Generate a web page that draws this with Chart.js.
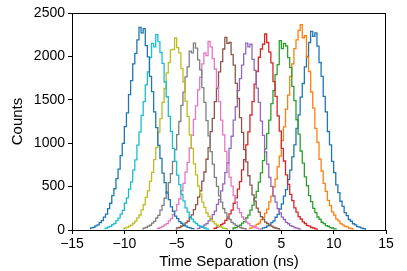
<!DOCTYPE html>
<html>
<head>
<meta charset="utf-8">
<script src="https://cdn.jsdelivr.net/npm/chart.js@4.4.1/dist/chart.umd.min.js"></script>
<style>
html,body{margin:0;padding:0;background:#fff}
#wrap{width:407px;height:271px}
</style>
</head>
<body>
<div id="wrap"><canvas id="hist" width="407" height="271"></canvas></div>
<script>

// =============================
// DATA (histogram counts, 0.2 ns bins)
// =============================

const binWidth = 0.2

// time of the first bin centre of each series
const seriesStart = [3.1, 1.9, 0.3, -1.5, -3.1, -5.1, -6.9, -8.3, -10.1, -11.9, -13.3]

const counts1 = [13,25,30,48,57,85,104,147,179,241,301,390,466,581,690,842,981,1170,1326,1530,1688,1880,2001,2160,2289,2231,2270,2118,1930,1770,1540,1362,1135,980,790,661,520,430,331,272,200,166,121,101,72,58,40,34,21,16,9]
const counts2 = [18,21,35,44,65,80,116,143,195,240,325,389,494,585,728,850,1030,1188,1392,1555,1770,1915,2090,2190,2300,2365,2215,2240,1990,1825,1590,1405,1170,1010,815,680,538,445,342,280,208,171,126,104,74,60,41,35,21,17,10]
const counts3 = [14,23,28,45,55,80,99,138,171,230,287,370,444,552,657,800,935,1110,1265,1455,1605,1790,1905,2181,2090,2150,2120,1985,1870,1655,1490,1270,1105,910,770,612,510,396,328,248,201,150,124,89,74,51,43,28,23,13,12]
const counts4 = [16,20,33,42,61,76,110,137,186,228,308,370,470,558,692,810,980,1130,1325,1480,1680,1825,1990,2085,2140,2258,2160,2050,1925,1710,1540,1315,1140,940,795,635,525,410,338,256,207,155,127,93,75,53,44,29,23,14,11]
const counts5 = [15,19,32,40,59,73,106,130,178,217,295,352,450,532,662,775,940,1080,1265,1420,1605,1745,1900,2030,2154,2110,2140,1965,1840,1635,1470,1255,1090,900,760,605,502,392,322,245,198,149,121,88,72,51,41,28,22,13,10]
const counts6 = [13,24,29,46,56,81,101,142,174,234,292,378,452,563,668,815,950,1133,1285,1480,1635,1822,1940,2085,2220,2150,2160,2020,1900,1690,1515,1295,1125,925,785,625,518,405,333,252,205,153,125,91,75,53,44,29,23,16,10]
const counts7 = [16,20,31,41,59,74,106,131,178,220,296,357,452,538,667,780,945,1090,1275,1430,1615,1760,1915,2040,2010,2174,2110,1975,1855,1650,1480,1265,1095,905,765,610,505,395,324,247,199,150,122,89,73,51,42,28,22,14,11]
const counts8 = [13,22,29,44,55,79,99,138,169,228,284,366,438,545,648,790,922,1098,1250,1435,1588,1765,1880,2060,2040,2154,2095,1960,1845,1640,1470,1260,1085,902,758,606,503,393,321,246,197,150,121,88,71,52,42,29,20,15,10]
const counts9 = [14,23,30,45,56,80,102,140,173,233,291,375,450,560,665,810,948,1125,1282,1470,1630,1810,1930,2075,2080,2212,2100,2040,1860,1705,1485,1310,1095,940,762,634,505,412,320,260,196,158,119,96,70,55,40,32,21,16,10]
const counts10 = [16,21,33,42,61,77,109,136,184,226,308,369,470,555,690,808,978,1128,1320,1480,1672,1822,1985,2150,2110,2250,2170,2045,1920,1705,1535,1310,1135,940,790,632,523,410,335,256,205,155,125,93,74,54,43,30,23,14,11]
const counts11 = [15,25,30,48,59,85,107,149,183,246,308,396,475,591,702,858,998,1190,1350,1560,1720,1915,2035,2190,2335,2270,2320,2125,1995,1770,1595,1360,1180,975,825,655,545,425,350,266,214,160,131,96,78,55,45,31,24,15,12]

const allCounts = [counts1,counts2,counts3,counts4,counts5,counts6,counts7,counts8,counts9,counts10,counts11]

const xTicks = [-15,-10,-5,0,5,10,15]
const yTicks = [0,500,1000,1500,2000,2500]

// matplotlib tab10 cycle
const palette = ["#1f77b4","#ff7f0e","#2ca02c","#d62728","#9467bd","#8c564b","#e377c2","#7f7f7f","#bcbd22","#17becf","#1f77b4"]


// =============================
// BUILD DATASETS
// =============================

function buildDatasets(){

return allCounts.map((arr,i)=>{

let pts = arr.map((c,j)=>({x:seriesStart[i]+j*binWidth,y:c}))

return {
data:pts,
borderColor:palette[i],
borderWidth:1.3,
pointRadius:0,
stepped:"middle",
fill:false,
order:allCounts.length-i
}

})

}


// =============================
// FRAME PLUGIN
// =============================

const framePlugin = {
id:"frame",
afterDatasetsDraw(chart){
const a = chart.chartArea
const ctx = chart.ctx
ctx.save()
ctx.strokeStyle = "#000"
ctx.lineWidth = 1
ctx.strokeRect(Math.round(a.left)+0.5,Math.round(a.top)+0.5,Math.round(a.right-a.left)-1,Math.round(a.bottom-a.top))
ctx.restore()
}
}


// =============================
// CHART
// =============================

const fontFamily = "'Liberation Sans', Arial, sans-serif"

new Chart(document.getElementById("hist"),{

type:"line",

data:{datasets:buildDatasets()},

options:{
responsive:false,
animation:false,
layout:{padding:{left:0,right:21,top:13,bottom:0}},
plugins:{legend:{display:false},tooltip:{enabled:false}},
scales:{
x:{
type:"linear",
min:-15,
max:15,
afterBuildTicks(scale){scale.ticks = xTicks.map(v=>({value:v}))},
afterFit(scale){scale.height = 41},
ticks:{
color:"#000",
font:{family:fontFamily,size:14},
padding:2,
maxRotation:0,
callback:v=>String(v).replace("-","\u2212")
},
grid:{drawOnChartArea:false,drawTicks:true,tickLength:4,color:"#000"},
border:{display:true,color:"#000"},
title:{display:true,text:"Time Separation (ns)",color:"#000",font:{family:fontFamily,size:15},padding:{top:0,bottom:0}}
},
y:{
min:0,
max:2500,
afterBuildTicks(scale){scale.ticks = yTicks.map(v=>({value:v}))},
afterFit(scale){scale.width = 72},
ticks:{
color:"#000",
font:{family:fontFamily,size:14},
padding:3,
callback:v=>String(v)
},
grid:{drawOnChartArea:false,drawTicks:true,tickLength:4,color:"#000"},
border:{display:true,color:"#000"},
title:{display:true,text:"Counts",color:"#000",font:{family:fontFamily,size:15},padding:{top:9,bottom:0}}
}
}
},

plugins:[framePlugin]

})

</script>
</body>
</html>
